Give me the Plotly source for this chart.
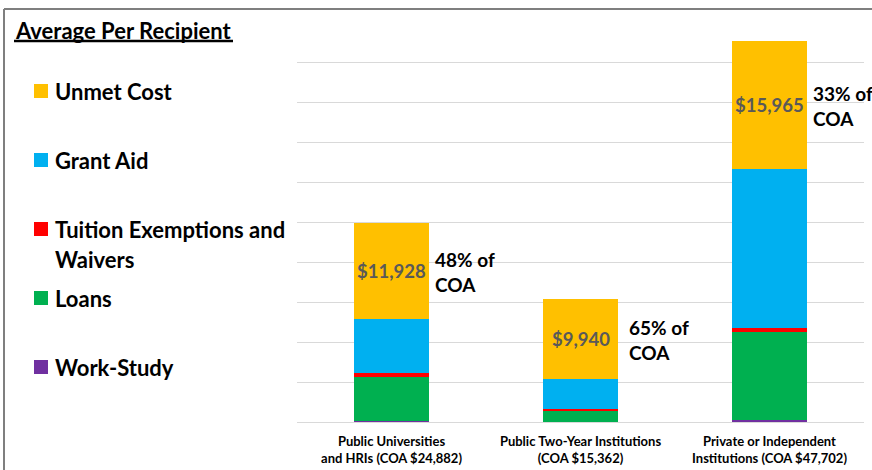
import plotly.graph_objects as go

# ---- data ----
categories = ["Public Universities<br>and HRIs (COA $24,882)",
              "Public Two-Year Institutions<br>(COA $15,362)",
              "Private or Independent<br>Institutions (COA $47,702)"]
coa = [24882, 15362, 47702]
work_study = [150, 50, 200]
loans = [5500, 1450, 11100]
tuition_waivers = [500, 120, 540]
grant_aid = [6804, 3802, 19897]
unmet_cost = [11928, 9940, 15965]

series_names = ["Work-Study", "Loans", "Tuition Exemptions and Waivers", "Grant Aid", "Unmet Cost"]
series_values = [work_study, loans, tuition_waivers, grant_aid, unmet_cost]
series_colors = ["#7030A0", "#00B050", "#FF0000", "#00B0F0", "#FFC000"]
legend_title = "Average Per Recipient"
legend_lines = {"Tuition Exemptions and Waivers": ["Tuition Exemptions and", "Waivers"]}

FONT = "Lato, 'Open Sans', sans-serif"

# ---- layout geometry (pixels) ----
W, H = 872, 470
L, R, T, B = 297, 8, 23, 48
PW, PH = W - L - R, H - T - B


def pxx(x):
    return (x - L) / PW


def pxy(y):
    return (H - B - y) / PH


fig = go.Figure()
xs = list(range(len(categories)))
for name, vals, col in zip(series_names, series_values, series_colors):
    fig.add_trace(go.Bar(x=xs, y=vals, name=name, marker_color=col,
                         marker_line_width=0, showlegend=False,
                         hoverinfo="skip"))

annotations = []
# unmet-cost value labels and share-of-COA labels
pct_xshift = [41, 46, 41]
base = [sum(v[i] for v in series_values[:-1]) for i in xs]
for i in xs:
    yc = base[i] + unmet_cost[i] / 2
    annotations.append(dict(x=i, y=yc, xref="x", yref="y", showarrow=False,
                            text=f"<b>${unmet_cost[i]:,}</b>",
                            font=dict(size=18.5, color="#595959", family=FONT)))
    pct = round(unmet_cost[i] / coa[i] * 100)
    for txt, ys in ((f"<b>{pct}% of</b>", 12), ("<b>COA</b>", -13)):
        annotations.append(dict(x=i, y=yc, xref="x", yref="y", showarrow=False,
                                xanchor="left", xshift=pct_xshift[i], yshift=ys,
                                text=txt, font=dict(size=19, color="#000000", family=FONT)))

# custom legend
annotations.append(dict(x=pxx(13), y=pxy(30), xref="paper", yref="paper",
                        xanchor="left", yanchor="middle", showarrow=False,
                        text=f"<b>{legend_title}</b>",
                        font=dict(size=22, color="#000000", family=FONT)))
shapes = [dict(type="line", xref="paper", yref="paper",
               x0=pxx(14), x1=pxx(233), y0=pxy(41), y1=pxy(41),
               line=dict(color="#000000", width=2.5))]
leg_y0, leg_step = 91, 69
for k, (name, col) in enumerate(zip(series_names[::-1], series_colors[::-1])):
    yc = leg_y0 + k * leg_step
    shapes.append(dict(type="rect", xref="paper", yref="paper",
                       x0=pxx(34), x1=pxx(48), y0=pxy(yc - 7), y1=pxy(yc + 7),
                       fillcolor=col, line_width=0))
    for j, line in enumerate(legend_lines.get(name, [name])):
        annotations.append(dict(x=pxx(53), y=pxy(yc + j * 30), xref="paper", yref="paper",
                                xanchor="left", yanchor="middle", showarrow=False,
                                text=f"<b>{line}</b>",
                                font=dict(size=22, color="#000000", family=FONT)))

# frame lines of the slide
shapes.append(dict(type="line", xref="paper", yref="paper",
                   x0=pxx(4), x1=pxx(872), y0=pxy(9), y1=pxy(9),
                   line=dict(color="#7f7f7f", width=2)))
shapes.append(dict(type="line", xref="paper", yref="paper",
                   x0=pxx(4), x1=pxx(4), y0=pxy(9), y1=pxy(470),
                   line=dict(color="#7f7f7f", width=2)))

fig.update_layout(
    width=W, height=H, barmode="stack", bargap=0.603,
    margin=dict(l=L, r=R, t=T, b=B, pad=0, autoexpand=False),
    paper_bgcolor="white", plot_bgcolor="white",
    font=dict(family=FONT, color="#000000"),
    annotations=annotations, shapes=shapes,
    xaxis=dict(tickmode="array", tickvals=xs,
               ticktext=[f"<b>{c}</b>" for c in categories],
               tickfont=dict(size=13, color="#000000", family=FONT),
               ticklabelstandoff=10, automargin=False,
               range=[-0.5, len(categories) - 0.5], showgrid=False,
               showline=False, ticks="", zeroline=False),
    yaxis=dict(range=[0, 50000], dtick=5000, showgrid=True, gridcolor="#d9d9d9",
               gridwidth=1, showticklabels=False, zeroline=True, automargin=False,
               zerolinecolor="#d9d9d9", zerolinewidth=1, showline=False, ticks=""),
)

fig.write_html("out.html", config={"displayModeBar": False},
               post_script="document.body.style.margin='0px';")
